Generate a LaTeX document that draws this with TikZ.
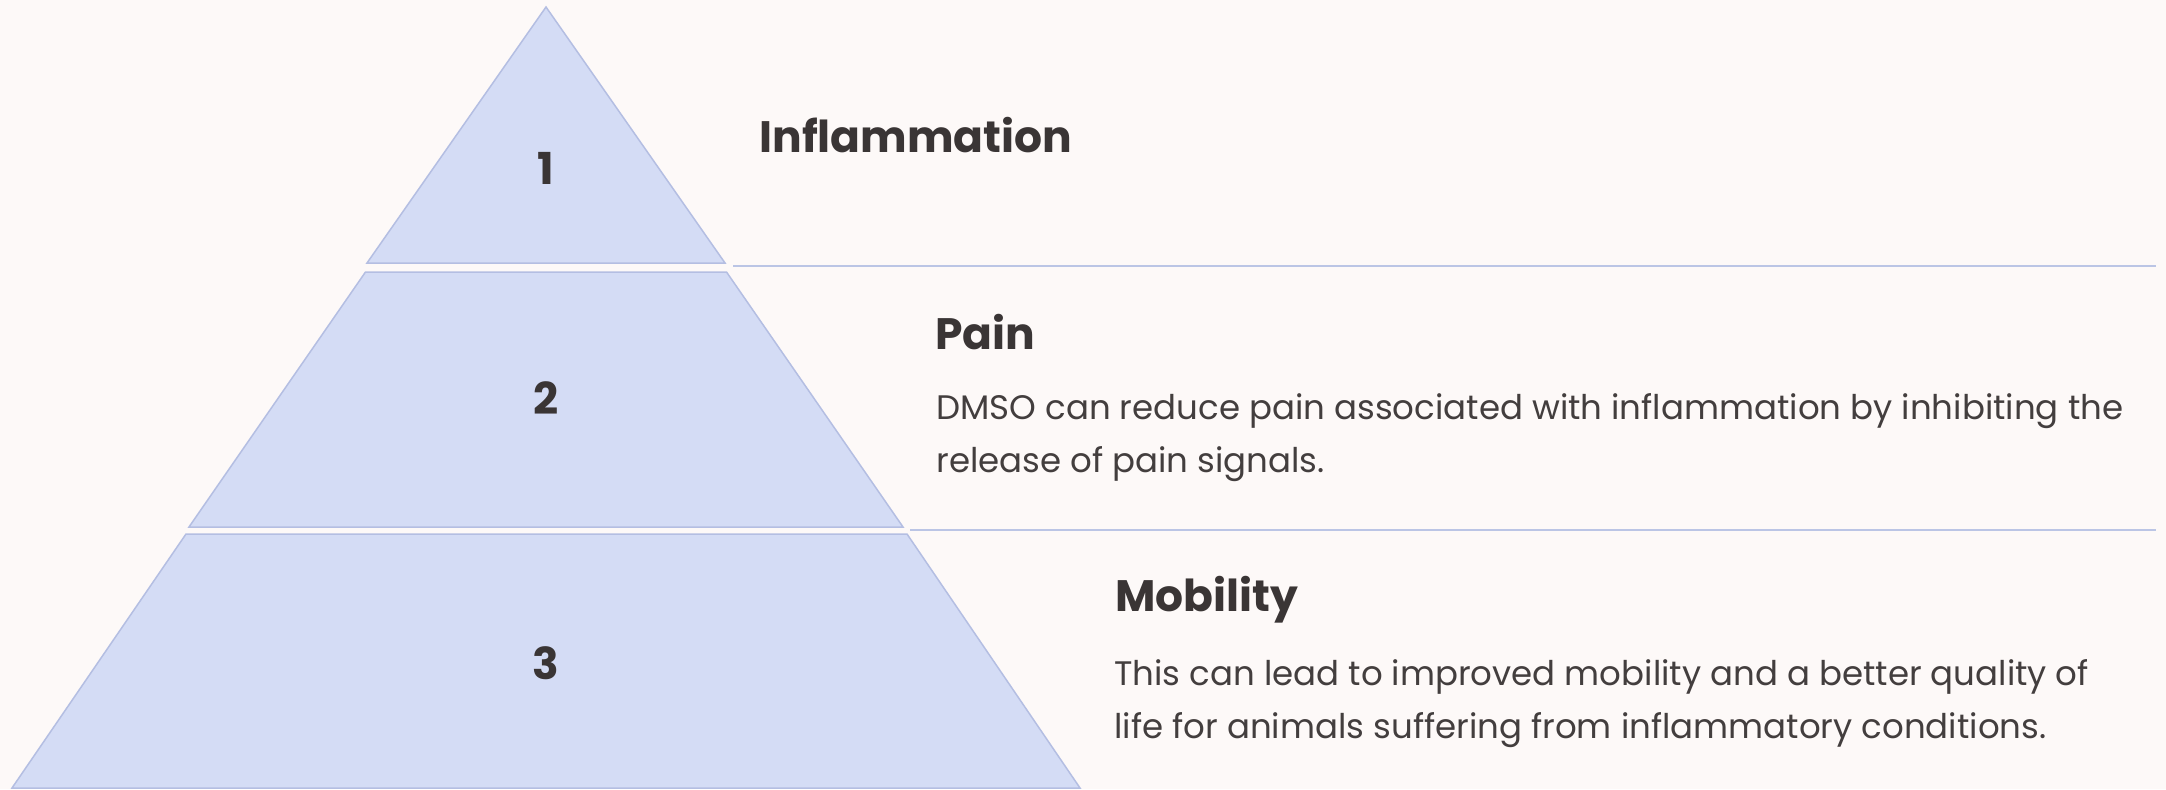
\documentclass[tikz,border=0pt]{standalone}
\usepackage{fontspec}
\setmainfont{Poppins}
\newfontfamily\bodyfont{Poppins}

\definecolor{pagebg}{HTML}{FDF9F8}
\definecolor{tierfill}{HTML}{D4DCF5}
\definecolor{tierline}{HTML}{B4BEE2}
\definecolor{inktext}{HTML}{3A3535}
\definecolor{bodytext}{HTML}{433E3E}

\tikzset{
    tier/.style={fill=tierfill, draw=tierline, line width=0.75pt, line join=miter},
    sepline/.style={draw=tierline!90, line width=1pt},
    tiernum/.style={inner sep=0pt, text=inktext, font=\fontsize{22}{26}\selectfont\bfseries},
    tiertitle/.style={anchor=base west, inner sep=0pt, text=inktext, font=\fontsize{22}{26}\selectfont\bfseries},
    tierbody/.style={anchor=base west, inner sep=0pt, text=bodytext, align=left, font=\bodyfont\fontsize{17}{26.5}\selectfont}
}

\begin{document}
\begin{tikzpicture}[x=0.5pt, y=0.5pt]
        % 1. Page background
        \fill[pagebg] (0,0) rectangle (2166,789);
        \useasboundingbox (0,0) rectangle (2166,789);

        % 2. The three pyramid tiers
        \filldraw[tier] (546,782) -- (725,526) -- (367,526) -- cycle;
        \filldraw[tier] (365.5,517) -- (726.5,517) -- (903,262) -- (189,262) -- cycle;
        \filldraw[tier] (186,255) -- (907,255) -- (1080,1) -- (12,1) -- cycle;

        % 3. Separator lines
        \draw[sepline] (733,523) -- (2156,523);
        \draw[sepline] (910,259.5) -- (2156,259.5);

        % 4. Tier numbers
        \node[tiernum] (num1) at (546,621) {1};
        \node[tiernum] (num2) at (546,390.5) {2};
        \node[tiernum] (num3) at (546,126) {3};

        % 5. Titles and texts (body anchored at its last baseline)
        \node[tiertitle] (title1) at (759,636.7) {Inflammation};
        \node[tiertitle] (title2) at (935,440) {Pain};
        \node[tierbody] (body2) at (936,317)
            {DMSO can reduce pain associated with inflammation by inhibiting the\\release of pain signals.};
        \node[tiertitle] (title3) at (1115,177.3) {Mobility};
        \node[tierbody] (body3) at (1114,51)
            {This can lead to improved mobility and a better quality of\\life for animals suffering from inflammatory conditions.};
    \end{tikzpicture}
\end{document}
